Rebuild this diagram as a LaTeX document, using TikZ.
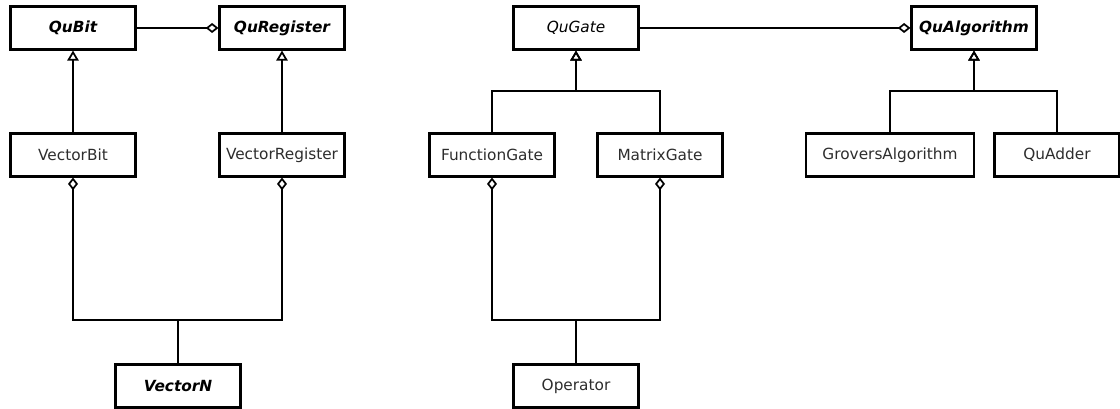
\documentclass[tikz,border=0pt]{standalone}
\usepackage{fontspec}
\setmainfont{DejaVu Sans}
\usetikzlibrary{arrows.meta,calc,positioning}
\definecolor{textColor}{RGB}{45,45,45}
\tikzset{klass/.style={draw=black, line width=1.6pt, text=textColor, align=center, minimum width=93.75pt, minimum height=32.25pt, inner sep=0pt, font=\fontsize{11.5}{13}\selectfont}}
\tikzset{abstractKlass/.style={klass, text=black, font=\fontsize{11.5}{13}\selectfont\bfseries\itshape}}
\tikzset{inherit/.style={line width=1.4pt, -{Triangle[open, length=7.5pt, width=8.5pt, line width=1.3pt]}}}
\tikzset{aggregate/.style={line width=1.4pt, -{Diamond[open, length=9.5pt, width=7.5pt, line width=1.3pt]}}}

\begin{document}
\begin{tikzpicture}[x=0.75pt, y=-0.75pt]
\useasboundingbox (0,0) rectangle (1120,409);
% Nodes
\node (QuBit) [abstractKlass] at (73,28) {QuBit};
\node (QuRegister) [abstractKlass] at (282,28) {QuRegister};
\node (VectorBit) [klass] at (73,155) {VectorBit};
\node (VectorRegister) [klass] at (282,155) {VectorRegister};
\node (VectorN) [abstractKlass] at (178,386) {VectorN};

\node (QuGate) [klass, text=black, font=\fontsize{11.5}{13}\selectfont\itshape] at (576,28) {QuGate};
\node (FunctionGate) [klass] at (492,155) {FunctionGate};
\node (MatrixGate) [klass] at (660,155) {MatrixGate};
\node (Operator) [klass] at (576,386) {Operator};

\node (QuAlgorithm) [abstractKlass] at (974,28) {QuAlgorithm};
\node (GroversAlgorithm) [klass, minimum width=126pt] at (890,155) {GroversAlgorithm};
\node (QuAdder) [klass] at (1057,155) {QuAdder};

% Connectors
\draw [aggregate] (QuBit) -- (QuRegister);
\draw [aggregate] (QuGate) -- (QuAlgorithm);

\draw [inherit] (VectorBit) -- (QuBit);
\draw [inherit] (VectorRegister) -- (QuRegister);

\draw [inherit] (FunctionGate.north) -- ++(0,-41) -| (QuGate.south);
\draw [inherit] (MatrixGate.north) -- ++(0,-41) -| (QuGate.south);

\draw [inherit] (GroversAlgorithm.north) -- ++(0,-41) -| (QuAlgorithm.south);
\draw [inherit] (QuAdder.north) -- ++(0,-41) -| (QuAlgorithm.south);

\draw [aggregate] (VectorN.north) -- ++(0,-43) -| (VectorBit.south);
\draw [aggregate] (VectorN.north) -- ++(0,-43) -| (VectorRegister.south);

\draw [aggregate] (Operator.north) -- ++(0,-43) -| (FunctionGate.south);
\draw [aggregate] (Operator.north) -- ++(0,-43) -| (MatrixGate.south);

\end{tikzpicture}
\end{document}
